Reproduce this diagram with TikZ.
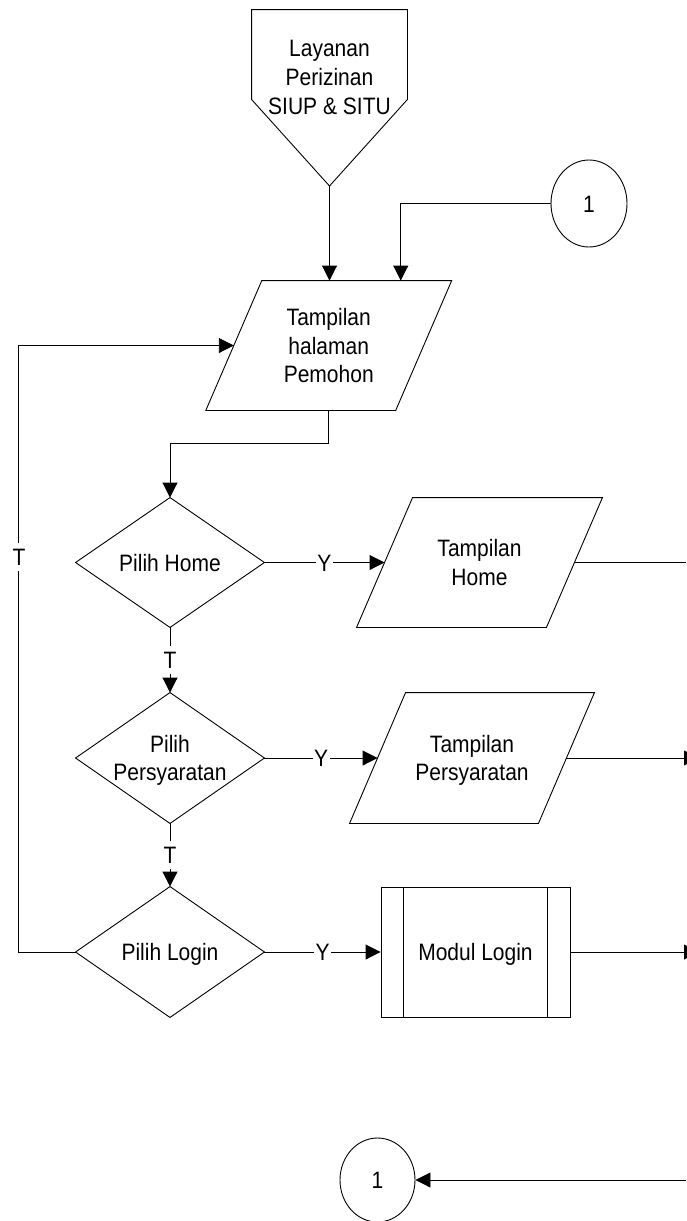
\documentclass[tikz,border=0pt]{standalone}
\usepackage{fontspec}
\setmainfont{Liberation Sans}
\usetikzlibrary{arrows.meta,shapes.geometric,calc}
\newcommand\ttx[1]{\raisebox{-2.8pt}[\height][\depth]{\scalebox{1}[1.13]{\begin{tabular}{@{}c@{}}#1\end{tabular}}}}
\newcommand\drawpara[1]{\draw ([xshift=28pt]#1.north west) -- ([xshift=28pt]#1.north east) -- ([xshift=-28pt]#1.south east) -- ([xshift=-28pt]#1.south west) -- cycle;}
\newcommand\drawdiam[1]{\draw (#1.north) -- (#1.east) -- (#1.south) -- (#1.west) -- cycle;}
\begin{document}
\begin{tikzpicture}[x=1pt,y=-1pt,
  line width=0.9pt,
  >={Triangle[length=15pt,width=15pt]},
  txt/.style={font=\fontsize{21pt}{25.4pt}\selectfont, inner sep=0pt},
  blk/.style={txt, draw=none, minimum width=#1, minimum height=130pt},
  lbl/.style={txt, fill=white, inner xsep=1.5pt, inner ysep=0pt},
  conn/.style={draw, ellipse, txt}]
\fill[white] (0,0) rectangle (686,1221);
\useasboundingbox (0,0) rectangle (686,1221);

% off-page connector
\node[blk=155pt, minimum height=89pt] (pent) at (329.5,54.5) {};
\coordinate (pentip) at (329.5,186);
\draw (pent.south west) -- (pent.north west) -- (pent.north east) -- (pent.south east) -- (pentip) -- cycle;
\node[txt] (pentxt) at (329.5,77) {\ttx{Layanan\\Perizinan\\SIUP \& SITU}};

% connector 1 (top)
\node[conn, minimum width=76pt, minimum height=87pt] (c1) at (589,203.5) {\ttx{1}};

% main display
\node[blk=189pt, minimum height=129pt] (main) at (328.75,345.5) {\ttx{Tampilan\\halaman\\Pemohon}};
\drawpara{main}

% decisions
\node[blk=188pt, minimum height=129pt] (dh) at (170,562.5) {\ttx{Pilih Home}};
\drawdiam{dh}
\node[blk=188pt] (dp) at (170,758) {\ttx{Pilih\\Persyaratan}};
\drawdiam{dp}
\node[blk=188pt] (dl) at (170,952) {\ttx{Pilih Login}};
\drawdiam{dl}

% displays
\node[blk=189pt, minimum height=129pt] (ph) at (479.5,562.5) {\ttx{Tampilan\\Home}};
\drawpara{ph}
\node[blk=188pt] (pp) at (472,758) {\ttx{Tampilan\\Persyaratan}};
\drawpara{pp}

% predefined process
\node[blk=189pt, draw] (ml) at (475.5,952) {\ttx{Modul Login}};
\draw ([xshift=23pt]ml.north west) -- ([xshift=23pt]ml.south west);
\draw ([xshift=-23pt]ml.north east) -- ([xshift=-23pt]ml.south east);

% connector 1 (bottom)
\node[conn, minimum width=75pt, minimum height=84pt] (c2) at (377.5,1180) {\ttx{1}};

% free ends
\coordinate (oh) at (686,562.5);
\coordinate (op) at (699,758);
\coordinate (ol) at (699,952);
\coordinate (ib) at (686,1180);

% connectors
\draw[->] (pentip) -- (pentip |- main.north);
\draw[->] (c1.west) -| ($(main.north)+(72,0)$);
\draw[->] (main.south) -- ++(0,33) -| (dh.north);
\draw[->] (dh.east) -- node[lbl] (y1) {\ttx{Y}} (ph.west);
\draw[->] (dh.south) -- node[lbl] (t1) {\ttx{T}} (dp.north);
\draw[->] (dp.east) -- node[lbl] (y2) {\ttx{Y}} (pp.west);
\draw[->] (dp.south) -- node[lbl] (t2) {\ttx{T}} (dl.north);
\draw[->] (dl.east) -- node[lbl] (y3) {\ttx{Y}} (ml.west);
\draw (ph.east) -- (oh);
\draw[->] (pp.east) -- (op);
\draw[->] (ml.east) -- (ol);
\draw[->] (dl.west) -- ++(-57,0) |- (main.west);
\node[lbl] (tl) at (19,557) {\ttx{T}};
\draw[->] (ib) -- (c2.east);
\end{tikzpicture}
\end{document}
